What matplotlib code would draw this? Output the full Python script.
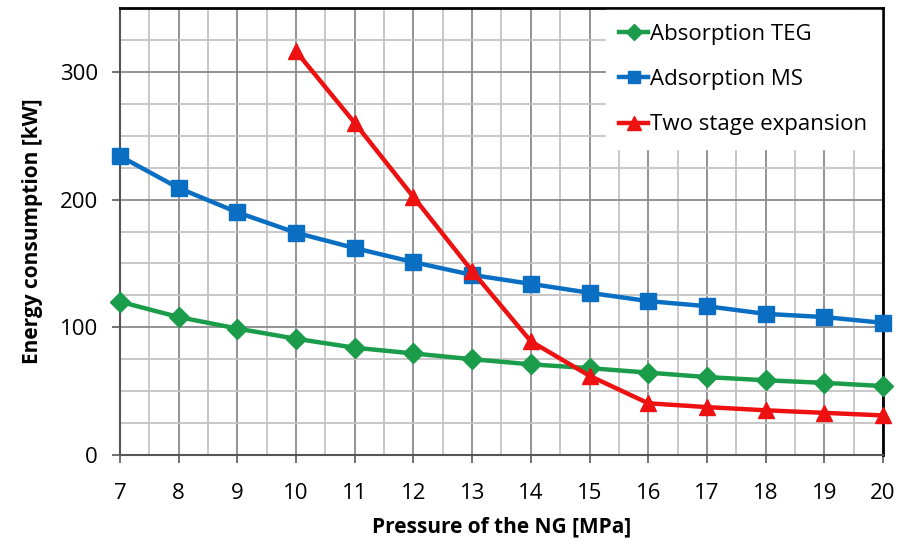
import numpy as np
import matplotlib
matplotlib.use('Agg')
import matplotlib.pyplot as plt
from matplotlib.ticker import MultipleLocator

# data
pressure = [7, 8, 9, 10, 11, 12, 13, 14, 15, 16, 17, 18, 19, 20]
teg = [120, 108, 99, 91, 84, 79.5, 75, 71, 68, 64.5, 61, 58.5, 56.5, 54]
ms = [234, 209, 190, 174, 162, 151, 141, 134, 127, 120.5, 116.5, 110.5, 108, 103.5]
pressure_exp = [10, 11, 12, 13, 14, 15, 16, 17, 18, 19, 20]
two_stage = [316, 260, 202, 144, 89, 62, 40.5, 37.5, 35, 33, 31]

plt.rcParams['font.family'] = ['Open Sans', 'DejaVu Sans']

fig = plt.figure(figsize=(9.03, 5.42), dpi=100)
ax = fig.add_axes([120 / 903, 1 - 455 / 542, 763 / 903, 447 / 542])

ax.plot(pressure, teg, color='#1a9c4a', lw=3.2, marker='D', ms=10, label='Absorption TEG', zorder=3, clip_on=False)
ax.plot(pressure, ms, color='#0a6fc2', lw=3.2, marker='s', ms=11, label='Adsorption MS', zorder=3, clip_on=False)
ax.plot(pressure_exp, two_stage, color='#ee1111', lw=3.2, marker='^', ms=12, label='Two stage expansion', zorder=3, clip_on=False)

ax.set_xlim(7, 20)
ax.set_ylim(0, 350)
ax.xaxis.set_major_locator(MultipleLocator(1))
ax.xaxis.set_minor_locator(MultipleLocator(0.5))
ax.yaxis.set_major_locator(MultipleLocator(100))
ax.yaxis.set_minor_locator(MultipleLocator(25))
ax.grid(which='major', color='#8a8a8a', lw=1.3)
ax.grid(which='minor', color='#c4c4c4', lw=1.3)
ax.set_axisbelow(True)

ax.tick_params(which='major', labelsize=16, length=6, width=1.3, color='#666666')
ax.tick_params(axis='x', pad=14)
ax.tick_params(axis='y', pad=10)
ax.tick_params(which='minor', length=0)
for s in ['left', 'bottom']:
    ax.spines[s].set_color('#555555')
    ax.spines[s].set_linewidth(1.5)
for s in ['top', 'right']:
    ax.spines[s].set_color('black')
    ax.spines[s].set_linewidth(2)

ax.set_xlabel('Pressure of the NG [MPa]', fontsize=15, fontweight='bold', labelpad=9)
ax.set_ylabel('Energy consumption [kW]', fontsize=15, fontweight='bold', labelpad=12)

leg = ax.legend(loc='upper right', fontsize=16, frameon=True, fancybox=False,
                handlelength=1.3, handletextpad=0.1, borderaxespad=0.1,
                labelspacing=1.1, markerscale=0.85, borderpad=0.6)
leg.get_frame().set_edgecolor('white')
leg.get_frame().set_facecolor('white')
leg.get_frame().set_alpha(1)

fig.savefig('out.png', dpi=100)
